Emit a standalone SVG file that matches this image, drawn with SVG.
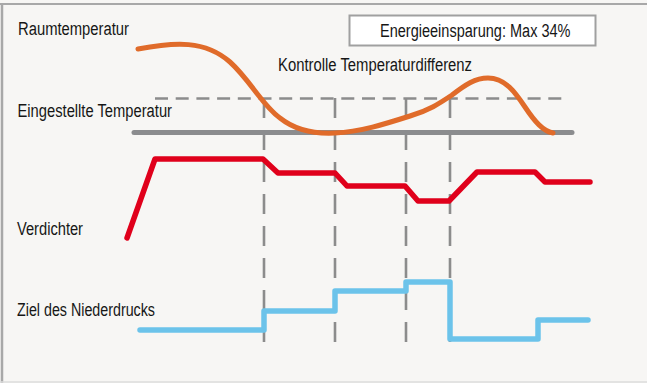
<svg xmlns="http://www.w3.org/2000/svg" width="647" height="383" viewBox="0 0 647 383">
  <style>
    .lbl { font-family: "Liberation Sans", Arial, sans-serif; font-size: 18px; fill: #161616; }
    .curve { fill: none; stroke-linecap: round; stroke-linejoin: round; }
    .vdash { fill: none; stroke: #8c8c8c; stroke-width: 2.6; stroke-dasharray: 20 12; }
  </style>
  <rect x="0" y="0" width="647" height="383" fill="#f7f6f4"/>
  <g id="frame">
    <line x1="0" y1="4" x2="647" y2="4" stroke="#a8a8a8" stroke-width="2"/>
    <line x1="2" y1="4" x2="2" y2="383" stroke="#a8a8a8" stroke-width="2.5"/>
    <line x1="0" y1="382" x2="647" y2="382" stroke="#dcdcdc" stroke-width="1.5"/>
  </g>
  <g id="labels">
    <text class="lbl" x="18" y="35" textLength="111" lengthAdjust="spacingAndGlyphs">Raumtemperatur</text>
    <text class="lbl" x="17.5" y="116.5" textLength="154.5" lengthAdjust="spacingAndGlyphs">Eingestellte Temperatur</text>
    <text class="lbl" x="278" y="71" textLength="194" lengthAdjust="spacingAndGlyphs">Kontrolle Temperaturdifferenz</text>
    <text class="lbl" x="17" y="234.5" textLength="66" lengthAdjust="spacingAndGlyphs">Verdichter</text>
    <text class="lbl" x="17" y="316" textLength="138" lengthAdjust="spacingAndGlyphs">Ziel des Niederdrucks</text>
  </g>
  <g id="savings-box">
    <rect x="349.5" y="15.5" width="246" height="30" fill="#ffffff" stroke="#a0a0a0" stroke-width="2"/>
    <text class="lbl" x="380" y="37" textLength="190.5" lengthAdjust="spacingAndGlyphs">Energieeinsparung: Max 34%</text>
  </g>
  <g id="connectors">
    <line x1="155" y1="98.5" x2="565" y2="98.5" stroke="#8c8c8c" stroke-width="2.6" stroke-dasharray="13 7.7"/>
    <line class="vdash" x1="264" y1="98" x2="264" y2="346"/>
    <line class="vdash" x1="335" y1="98" x2="335" y2="346"/>
    <line class="vdash" x1="406" y1="98" x2="406" y2="346"/>
    <line class="vdash" x1="450" y1="98" x2="450" y2="346"/>
  </g>
  <g id="set-temperature">
    <line x1="134" y1="132.5" x2="572" y2="132.5" stroke="#8b8c8e" stroke-width="5" stroke-linecap="round"/>
  </g>
  <g id="room-temperature">
    <path class="curve" stroke="#e06b2a" stroke-width="5" d="M138,49 C175,42 205,40 230,62 C250,80 262,105 280,118 C295,130 315,134 335,133 C360,132 385,124 410,116 C430,110 440,103 452,95 C465,85 475,78 488,78 C505,78 515,92 525,107 C535,122 543,131 553,133"/>
  </g>
  <g id="compressor">
    <path class="curve" stroke="#e0001b" stroke-width="5.5" stroke-linejoin="miter" d="M127,238 L155,159 L263,159 L278,173 L335,173 L347,186 L405,186 L418,201 L449,201 L477,172 L535,172 L545,182 L590,182"/>
  </g>
  <g id="low-pressure-target">
    <path class="curve" stroke="#6cc3ea" stroke-width="5.5" d="M140,330 L264,330 L264,311 L335,311 L335,291 L406,291 L406,282 L450,282 L450,339 L538,339 L538,320 L588,320"/>
  </g>
</svg>
